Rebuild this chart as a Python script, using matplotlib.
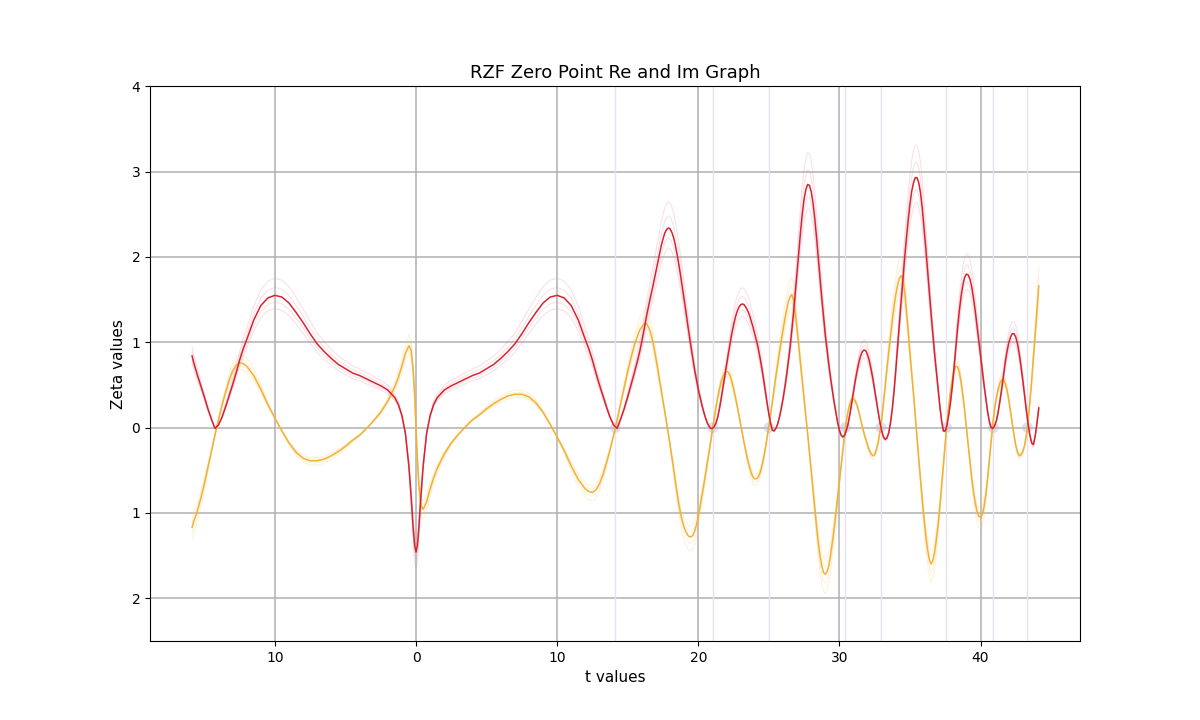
"""
plot.py
Real and imaginary parts of zeta(1/2 + it) with the first zeros marked
"""

import numpy as np
import matplotlib
matplotlib.use("Agg")
import matplotlib.pyplot as plt
from matplotlib.ticker import FuncFormatter

# sample points along t: coarse up to 15.25, then every 0.125 up to 44, then the end point
t_coarse = [-15.87, -15.75, -15.5, -15.25, -15.0, -14.75, -14.5, -14.25, -14.0, -13.75,
            -13.5, -13.25, -13.0, -12.75, -12.5, -12.25, -12.0, -11.5, -11.0, -10.5,
            -10.0, -9.5, -9.0, -8.5, -8.0, -7.5, -7.0, -6.5, -6.0, -5.5,
            -5.0, -4.5, -4.0, -3.5, -3.0, -2.5, -2.0, -1.5, -1.25, -1.0,
            -0.75, -0.5, -0.35, -0.2, -0.1, 0.0, 0.1, 0.2, 0.35, 0.5,
            0.75, 1.0, 1.25, 1.5, 2.0, 2.5, 3.0, 3.5, 4.0, 4.5,
            5.0, 5.5, 6.0, 6.5, 7.0, 7.5, 8.0, 8.5, 9.0, 9.5,
            10.0, 10.5, 11.0, 11.5, 12.0, 12.25, 12.5, 12.75, 13.0, 13.25,
            13.5, 13.75, 14.0, 14.25, 14.5, 14.75, 15.0, 15.25]
t_fine = list(np.arange(15.5, 44.001, 0.125))
t_end = [44.13]
t = t_coarse + t_fine + t_end

# Re zeta(1/2 + it)
re_vals = [
    0.84, 0.76, 0.62, 0.49, 0.36, 0.22, 0.10, -0.01, 0.03, 0.12,
    0.24, 0.37, 0.50, 0.64, 0.79, 0.92, 1.03, 1.26, 1.43, 1.52,
    1.55, 1.53, 1.46, 1.35, 1.23, 1.10, 0.98, 0.89, 0.81, 0.74,
    0.69, 0.64, 0.61, 0.57, 0.53, 0.49, 0.44, 0.35, 0.27, 0.14,
    -0.07, -0.46, -0.80, -1.18, -1.38, -1.46, -1.38, -1.18, -0.80, -0.46,
    -0.07, 0.14, 0.27, 0.35, 0.44, 0.49, 0.53, 0.57, 0.61, 0.64,
    0.69, 0.74, 0.81, 0.89, 0.98, 1.10, 1.23, 1.35, 1.46, 1.53,
    1.55, 1.52, 1.43, 1.26, 1.03, 0.92, 0.79, 0.64, 0.50, 0.37,
    0.24, 0.12, 0.03, -0.01, 0.10, 0.22, 0.36, 0.51,
    # 15.5 .. 15.875
    0.66, 0.74, 0.82, 0.91,
    1.01, 1.12, 1.23, 1.34, 1.44, 1.54, 1.63, 1.73,      # 16
    1.83, 1.93, 2.03, 2.13, 2.21, 2.28, 2.32, 2.34,      # 17
    2.33, 2.29, 2.23, 2.14, 2.03, 1.91, 1.78, 1.64,      # 18
    1.50, 1.36, 1.21, 1.07, 0.93, 0.80, 0.67, 0.56,      # 19
    0.45, 0.36, 0.27, 0.19, 0.12, 0.06, 0.02, -0.01,     # 20
    -0.01, 0.01, 0.05, 0.12, 0.22, 0.34, 0.47, 0.60,     # 21
    0.73, 0.86, 0.98, 1.10, 1.20, 1.29, 1.36, 1.41,      # 22
    1.44, 1.45, 1.44, 1.41, 1.37, 1.32, 1.25, 1.18,      # 23
    1.10, 1.02, 0.93, 0.82, 0.70, 0.57, 0.43, 0.29,      # 24
    0.16, 0.05, -0.03, -0.04, -0.01, 0.04, 0.12, 0.22,   # 25
    0.33, 0.46, 0.60, 0.76, 0.93, 1.13, 1.34, 1.58,      # 26
    1.83, 2.07, 2.30, 2.51, 2.68, 2.79, 2.85, 2.84,      # 27
    2.77, 2.64, 2.46, 2.24, 2.00, 1.76, 1.52, 1.30,      # 28
    1.09, 0.91, 0.74, 0.58, 0.44, 0.30, 0.18, 0.06,      # 29
    -0.03, -0.09, -0.11, -0.09, -0.03, 0.05, 0.16, 0.29, # 30
    0.42, 0.55, 0.66, 0.76, 0.84, 0.89, 0.91, 0.90,      # 31
    0.85, 0.78, 0.68, 0.57, 0.44, 0.31, 0.18, 0.06,      # 32
    -0.04, -0.11, -0.14, -0.12, -0.06, 0.06, 0.22, 0.43, # 33
    0.68, 0.95, 1.22, 1.48, 1.74, 1.99, 2.22, 2.43,      # 34
    2.62, 2.77, 2.87, 2.93, 2.93, 2.87, 2.75, 2.57,      # 35
    2.34, 2.10, 1.84, 1.58, 1.33, 1.09, 0.86, 0.65,      # 36
    0.45, 0.24, 0.07, -0.04, -0.04, 0.03, 0.15, 0.30,    # 37
    0.48, 0.70, 0.94, 1.17, 1.37, 1.54, 1.67, 1.76,      # 38
    1.80, 1.79, 1.74, 1.65, 1.52, 1.37, 1.20, 1.03,      # 39
    0.85, 0.67, 0.50, 0.34, 0.19, 0.07, 0.00, -0.01,     # 40
    0.02, 0.08, 0.18, 0.31, 0.45, 0.61, 0.76, 0.89,      # 41
    0.99, 1.06, 1.10, 1.10, 1.06, 0.98, 0.86, 0.71,      # 42
    0.55, 0.37, 0.20, 0.04, -0.09, -0.18, -0.20, -0.10,  # 43
    0.05, 0.23]                                          # 44, 44.13

# Im zeta(1/2 + it)
im_vals = [
    -1.17, -1.10, -0.98, -0.83, -0.66, -0.47, -0.28, -0.09, 0.09, 0.26,
    0.41, 0.55, 0.66, 0.73, 0.76, 0.75, 0.72, 0.61, 0.45, 0.27,
    0.11, -0.04, -0.18, -0.29, -0.36, -0.39, -0.39, -0.37, -0.33, -0.28,
    -0.22, -0.15, -0.09, -0.01, 0.08, 0.18, 0.31, 0.48, 0.59, 0.72,
    0.87, 0.96, 0.91, 0.67, 0.38, 0.00, -0.38, -0.67, -0.91, -0.96,
    -0.87, -0.72, -0.59, -0.48, -0.31, -0.18, -0.08, 0.01, 0.09, 0.15,
    0.22, 0.28, 0.33, 0.37, 0.39, 0.39, 0.36, 0.29, 0.18, 0.04,
    -0.11, -0.27, -0.45, -0.61, -0.72, -0.75, -0.76, -0.73, -0.66, -0.55,
    -0.41, -0.26, -0.09, 0.09, 0.28, 0.47, 0.66, 0.83,
    # 15.5 .. 15.875
    0.98, 1.04, 1.10, 1.15,
    1.18, 1.21, 1.23, 1.21, 1.17, 1.11, 1.03, 0.93,          # 16
    0.81, 0.69, 0.56, 0.44, 0.31, 0.19, 0.06, -0.07,         # 17
    -0.20, -0.34, -0.48, -0.63, -0.77, -0.90, -1.01, -1.10,  # 18
    -1.17, -1.22, -1.26, -1.28, -1.28, -1.26, -1.21, -1.14,  # 19
    -1.04, -0.93, -0.81, -0.69, -0.56, -0.43, -0.30, -0.17,  # 20
    -0.03, 0.10, 0.23, 0.35, 0.45, 0.54, 0.60, 0.64,         # 21
    0.66, 0.65, 0.61, 0.54, 0.46, 0.36, 0.26, 0.15,          # 22
    0.04, -0.07, -0.18, -0.28, -0.38, -0.46, -0.53, -0.58,   # 23
    -0.60, -0.60, -0.58, -0.53, -0.46, -0.36, -0.25, -0.12,  # 24
    0.01, 0.15, 0.30, 0.45, 0.60, 0.74, 0.88, 1.01,          # 25
    1.14, 1.26, 1.37, 1.47, 1.53, 1.56, 1.49, 1.35,          # 26
    1.16, 0.95, 0.74, 0.54, 0.34, 0.14, -0.07, -0.28,        # 27
    -0.50, -0.72, -0.94, -1.15, -1.34, -1.50, -1.62, -1.70,  # 28
    -1.72, -1.69, -1.62, -1.50, -1.35, -1.19, -1.01, -0.82,  # 29
    -0.63, -0.44, -0.26, -0.08, 0.08, 0.20, 0.28, 0.33,      # 30
    0.34, 0.31, 0.26, 0.19, 0.10, 0.01, -0.07, -0.14,        # 31
    -0.21, -0.27, -0.31, -0.33, -0.32, -0.26, -0.17, -0.05,  # 32
    0.10, 0.29, 0.50, 0.70, 0.89, 1.08, 1.26, 1.42,          # 33
    1.56, 1.67, 1.75, 1.78, 1.74, 1.59, 1.37, 1.13,          # 34
    0.87, 0.64, 0.40, 0.14, -0.12, -0.37, -0.61, -0.85,      # 35
    -1.07, -1.27, -1.43, -1.55, -1.60, -1.56, -1.46, -1.31,  # 36
    -1.13, -0.92, -0.68, -0.43, -0.18, 0.05, 0.25, 0.42,     # 37
    0.56, 0.66, 0.72, 0.71, 0.65, 0.53, 0.38, 0.20,          # 38
    0.00, -0.20, -0.40, -0.59, -0.75, -0.88, -0.98, -1.04,   # 39
    -1.05, -1.02, -0.93, -0.79, -0.60, -0.38, -0.15, 0.05,   # 40
    0.22, 0.35, 0.45, 0.52, 0.56, 0.56, 0.52, 0.44,          # 41
    0.33, 0.19, 0.05, -0.09, -0.21, -0.29, -0.33, -0.32,     # 42
    -0.28, -0.21, -0.09, 0.08, 0.30, 0.55, 0.82, 1.09,       # 43
    1.37, 1.66]                                              # 44, 44.13

# imaginary parts of the first non-trivial zeros
zeros = [14.1347, 21.0220, 25.0109, 30.4249, 32.9351, 37.5862, 40.9187, 43.3271]

# faint companion curves (slightly off the critical line)
faint_scales = [1.13, 1.06, 0.95, 0.9]

assert len(t) == len(re_vals) == len(im_vals), (len(t), len(re_vals), len(im_vals))


def no_minus(v, pos):
    # the original font had no minus glyph, so negative ticks show bare numbers
    return f"{abs(v):g}"


def create_zeta_plot():
    fig, ax = plt.subplots(figsize=(12, 7.2), dpi=100)

    for z in zeros:
        ax.axvline(z, color='#e3e3f3', linewidth=1.0, zorder=1)
    ax.scatter(zeros, [0] * len(zeros), s=60, color='#b8b8dc', alpha=0.45,
               edgecolors='none', zorder=2)

    for s in faint_scales:
        ax.plot(t, [v * s for v in im_vals], color='#f6c860', alpha=0.22,
                linewidth=0.8, zorder=3)
        ax.plot(t, [v * s for v in re_vals], color='#e8889a', alpha=0.25,
                linewidth=0.8, zorder=3)

    ax.plot(t, im_vals, color='#f2b134', linewidth=1.1, zorder=4,
            solid_joinstyle='round')
    ax.plot(t, re_vals, color='#d8232f', linewidth=1.1, zorder=5,
            solid_joinstyle='round')

    ax.set_xlim(-18.85, 47.05)
    ax.set_ylim(-2.5, 4)
    ax.set_xticks([-10, 0, 10, 20, 30, 40])
    ax.set_yticks([-2, -1, 0, 1, 2, 3, 4])
    ax.xaxis.set_major_formatter(FuncFormatter(no_minus))
    ax.yaxis.set_major_formatter(FuncFormatter(no_minus))
    ax.grid(True, color='#b0b0b0', linewidth=1.1)
    ax.set_axisbelow(True)

    ax.set_title("RZF Zero Point Re and Im Graph", fontsize=13)
    ax.set_xlabel("t values", fontsize=11)
    ax.set_ylabel("Zeta values", fontsize=11)

    fig.subplots_adjust(left=0.125, right=0.9, bottom=0.11, top=0.88)
    fig.savefig('out.png', dpi=100)


if __name__ == "__main__":
    create_zeta_plot()
